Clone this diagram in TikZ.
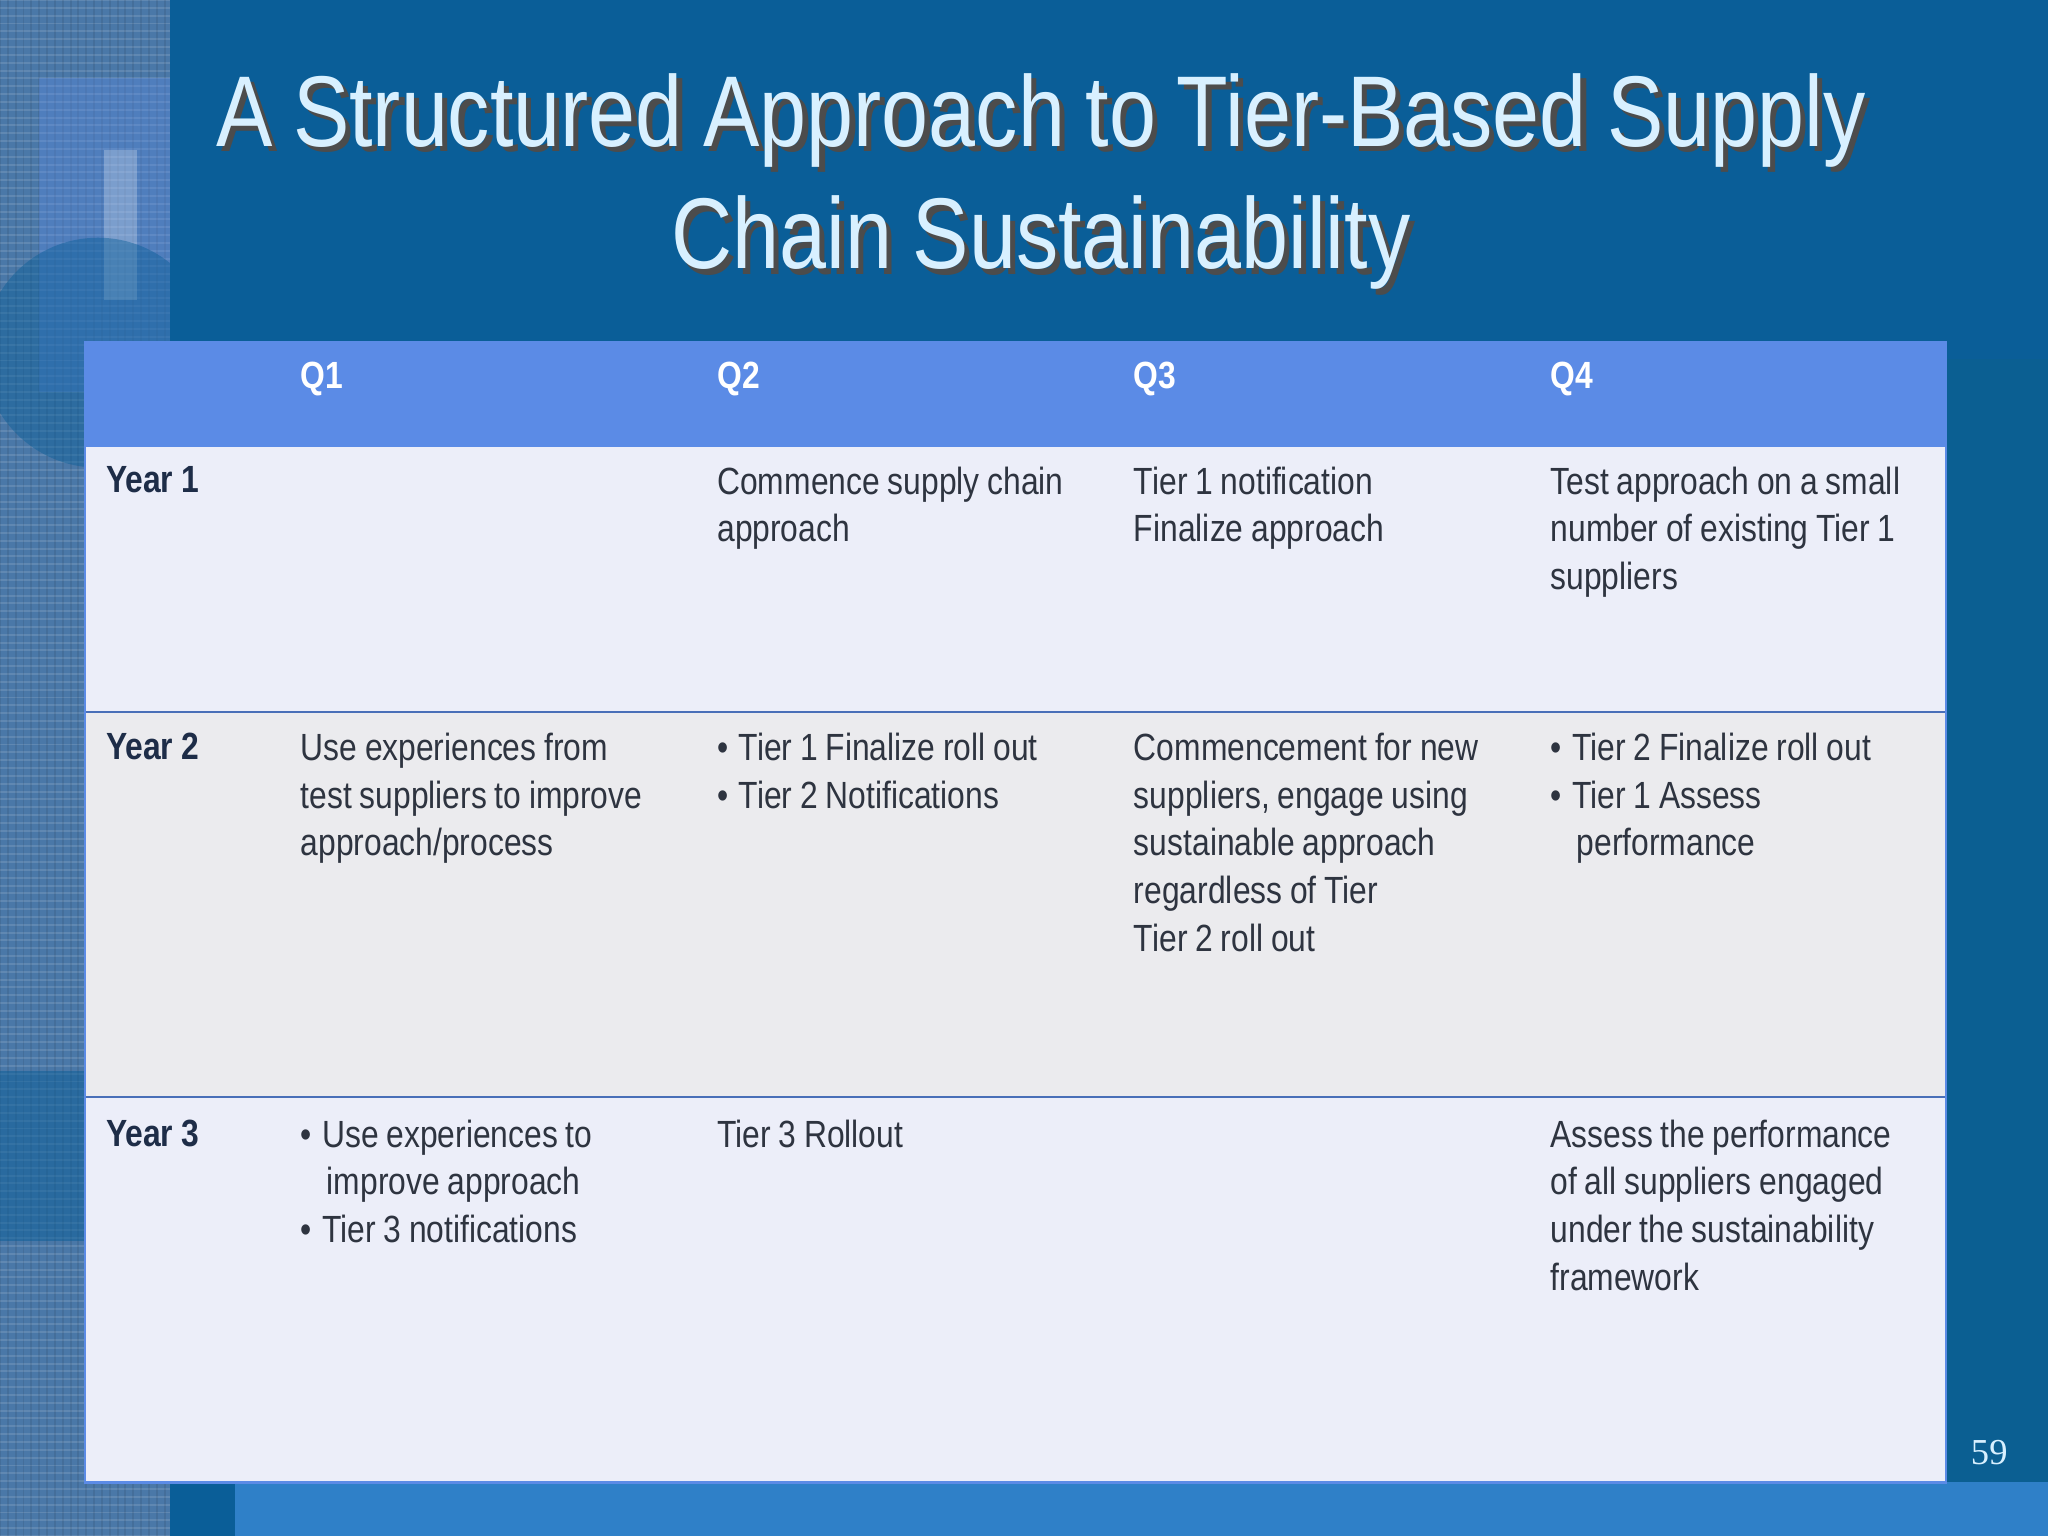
\documentclass[tikz,border=0pt]{standalone}
\usepackage{fontspec}
\setmainfont{Liberation Sans}[FakeStretch=0.84,WordSpace=0.88]
\newfontfamily\pgnum{Liberation Serif}
\definecolor{bgblue}{HTML}{0A5E98}
\definecolor{strip}{HTML}{4A78A8}
\definecolor{hdr}{HTML}{5B8BE6}
\definecolor{rowa}{HTML}{ECEEF9}
\definecolor{rowb}{HTML}{EBEBEE}
\definecolor{txt}{HTML}{2E3440}
\definecolor{yr}{HTML}{1E2D48}
\definecolor{ttl}{HTML}{D8F0FF}
\definecolor{bottom}{HTML}{2F80C8}
\definecolor{rbox}{HTML}{0B5F92}
\newcommand{\bl}{\textbullet\hspace{8pt}}
\newcommand{\ind}{\hspace*{20pt}}
\begin{document}
\begin{tikzpicture}[x=1pt,y=-1pt,
  cell/.style={anchor=north west,inner sep=0pt,align=left,text=txt,font=\fontsize{29}{36.5}\selectfont},
  yrs/.style={anchor=north west,inner sep=0pt,text=yr,font=\bfseries\fontsize{29}{36.5}\selectfont},
  qh/.style={anchor=north west,inner sep=0pt,text=white,font=\bfseries\fontsize{29}{36.5}\selectfont},
  sep/.style={draw=hdr!80!black,line width=1.2pt}]
\useasboundingbox (0,0) rectangle (1568,1176);
\fill[bgblue] (0,0) rectangle (1568,1176);
\fill[strip] (0,0) rectangle (130,1176);
\foreach \y in {0,6,...,1176}{\draw[white,opacity=0.12,line width=1.5pt] (0,\y) -- (130,\y);}
\foreach \x in {0,6,...,130}{\draw[black,opacity=0.08,line width=1.5pt] (\x,0) -- (\x,1176);}
\fill[hdr,opacity=0.35] (30,60) rectangle (130,300);
\fill[white,opacity=0.25] (80,115) rectangle (105,230);
\fill[bgblue,opacity=0.45] (75,270) circle (88);
\fill[bgblue,opacity=0.5] (0,820) rectangle (65,950);
\fill[bgblue] (130,0) rectangle (1568,255);
\fill[rbox] (1490,275) rectangle (1568,1135);
\fill[bottom] (180,1135) rectangle (1568,1176);
\node[name=tsh,text=black!70,align=center,font=\fontsize{77}{94}\selectfont] at (801,143) {A Structured Approach to Tier-Based Supply\\Chain Sustainability};
\node[name=title,text=ttl,align=center,font=\fontsize{77}{94}\selectfont] at (797,139) {A Structured Approach to Tier-Based Supply\\Chain Sustainability};
\fill[hdr] (65,262) rectangle (1490,342);
\fill[rowa] (65,342) rectangle (1490,545);
\fill[rowb] (65,545) rectangle (1490,840);
\fill[rowa] (65,840) rectangle (1490,1135);
\draw[sep] (65,545) -- (1490,545);
\draw[sep] (65,840) -- (1490,840);
\draw[hdr,line width=2pt] (65,262) rectangle (1490,1135);
\node[qh] (q1) at (230,277) {Q1};
\node[qh] (q2) at (549,277) {Q2};
\node[qh] (q3) at (868,277) {Q3};
\node[qh] (q4) at (1187,277) {Q4};
\node[yrs] (y1) at (81,357) {Year 1};
\node[yrs] (y2) at (81,561) {Year 2};
\node[yrs] (y3) at (81,857) {Year 3};
\node[cell] (c12) at (549,357) {Commence supply chain\\approach};
\node[cell] (c13) at (868,357) {Tier 1 notification\\Finalize approach};
\node[cell] (c14) at (1187,357) {Test approach on a small\\number of existing Tier 1\\suppliers};
\node[cell] (c21) at (230,561) {Use experiences from\\test suppliers to improve\\approach/process};
\node[cell] (c22) at (549,561) {\bl Tier 1 Finalize roll out\\\bl Tier 2 Notifications};
\node[cell] (c23) at (868,561) {Commencement for new\\suppliers, engage using\\sustainable approach\\regardless of Tier\\Tier 2 roll out};
\node[cell] (c24) at (1187,561) {\bl Tier 2 Finalize roll out\\\bl Tier 1 Assess\\\ind performance};
\node[cell] (c31) at (230,857) {\bl Use experiences to\\\ind improve approach\\\bl Tier 3 notifications};
\node[cell] (c32) at (549,857) {Tier 3 Rollout};
\node[cell] (c34) at (1187,857) {Assess the performance\\of all suppliers engaged\\under the sustainability\\framework};
\node[text=ttl,font=\pgnum\fontsize{28}{30}\selectfont] (pg) at (1523,1112) {59};
\end{tikzpicture}
\end{document}
